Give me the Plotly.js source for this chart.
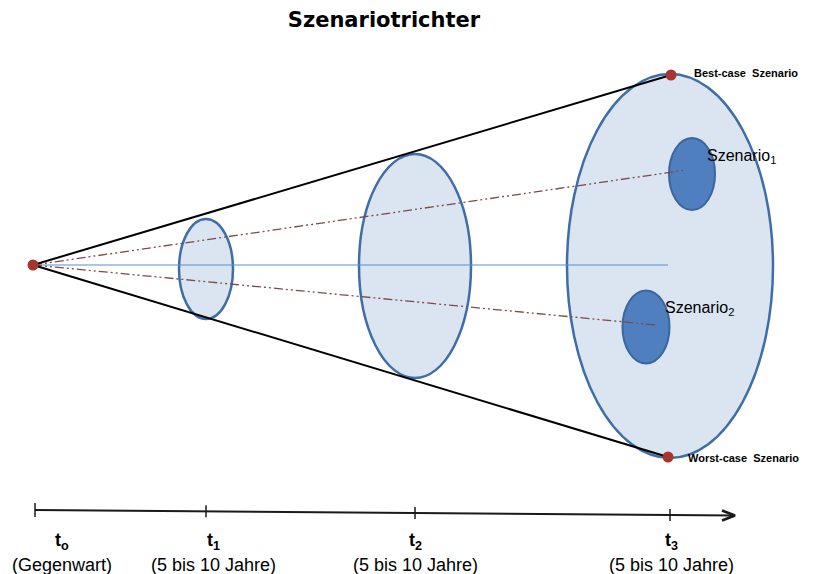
<!DOCTYPE html>
<html>
<head>
<meta charset="utf-8">
<script src="https://cdn.plot.ly/plotly-3.0.1.min.js"></script>
<style>html,body{margin:0;padding:0;background:#fff;}#chart{width:814px;height:574px;}</style>
</head>
<body>
<div id="chart"></div>
<script>
// ---- data (diagram coordinates) ----
const titleText = 'Szenariotrichter';
const stageLabels = ['t<sub>o</sub>', 't<sub>1</sub>', 't<sub>2</sub>', 't<sub>3</sub>'];
const stageSubLabels = ['(Gegenwart)', '(5 bis 10 Jahre)', '(5 bis 10 Jahre)', '(5 bis 10 Jahre)'];
const stageTickX = [35, 206, 415, 670];
const stageLabelX = [62, 213, 415, 671];

// funnel
const apex = [33, 265];
const bestCase = [671, 75];
const worstCase = [668, 457];
const centerEnd = [668, 265];
const caseLabels = ['Best-case\u00a0 Szenario', 'Worst-case\u00a0 Szenario'];

// cross-section ellipses at t1, t2, t3 : centre x, centre y, radius x, radius y
const sectionCx = [206, 415, 670];
const sectionCy = [269, 266, 266];
const sectionRx = [27, 56, 103];
const sectionRy = [50, 112, 192];

// scenarios
const scenarioNames = ['Szenario<sub>1</sub>', 'Szenario<sub>2</sub>'];
const scenarioCx = [692, 646];
const scenarioCy = [174, 327];
const scenarioRx = [23, 23.5];
const scenarioRy = [36, 36.5];
const scenarioPathEnd = [[686, 170], [656, 325]];
const scenarioLabelX = [705, 663];
const scenarioLabelY = [156, 308];

// timeline
const timeStart = [35, 510];
const timeEnd = [735, 515.5];

// ---- build ----
const tlY = x => timeStart[1] + (x - timeStart[0]) * (timeEnd[1] - timeStart[1]) / (timeEnd[0] - timeStart[0]);
const traces = [];
const shapes = [];
const annotations = [];

for (let i = 0; i < sectionCx.length; i++) {
  shapes.push({type: 'circle', xref: 'x', yref: 'y', layer: 'below',
    x0: sectionCx[i] - sectionRx[i], x1: sectionCx[i] + sectionRx[i],
    y0: sectionCy[i] - sectionRy[i], y1: sectionCy[i] + sectionRy[i],
    fillcolor: '#dbe4f1', line: {color: '#3e6ea5', width: 2.5}});
}
for (let i = 0; i < scenarioCx.length; i++) {
  shapes.push({type: 'circle', xref: 'x', yref: 'y', layer: 'below',
    x0: scenarioCx[i] - scenarioRx[i], x1: scenarioCx[i] + scenarioRx[i],
    y0: scenarioCy[i] - scenarioRy[i], y1: scenarioCy[i] + scenarioRy[i],
    fillcolor: '#4f7fbf', line: {color: '#3a669d', width: 2}});
}

const line = (xs, ys, color, width, dash) => ({type: 'scatter', mode: 'lines', x: xs, y: ys,
  line: {color: color, width: width, dash: dash || 'solid'}, hoverinfo: 'skip', showlegend: false});

// centre line
traces.push(line([apex[0], centerEnd[0]], [apex[1], centerEnd[1]], '#5b8ccb', 1));
// scenario paths
scenarioPathEnd.forEach(p => traces.push(line([apex[0], p[0]], [apex[1], p[1]], '#7a4b4b', 1.3, '9px,3px,2px,3px,2px,3px')));
// cone edges
traces.push(line([apex[0], bestCase[0]], [apex[1], bestCase[1]], '#000000', 2));
traces.push(line([apex[0], worstCase[0]], [apex[1], worstCase[1]], '#000000', 2));
// red points
traces.push({type: 'scatter', mode: 'markers', x: [apex[0], bestCase[0], worstCase[0]], y: [apex[1], bestCase[1], worstCase[1]],
  marker: {color: '#a7342f', size: 11}, hoverinfo: 'skip', showlegend: false});

// timeline
traces.push(line([timeStart[0], timeEnd[0]], [timeStart[1], timeEnd[1]], '#1a1a1a', 2));
traces.push(line([timeEnd[0] - 13, timeEnd[0], timeEnd[0] - 13], [timeEnd[1] - 5, timeEnd[1], timeEnd[1] + 5], '#1a1a1a', 2.5));
stageTickX.forEach((x, i) => {
  const h = i === 0 ? 7 : 6;
  traces.push(line([x, x], [tlY(x) - h, tlY(x) + h], '#1a1a1a', 1.5));
});

const FONT = 'Liberation Sans, Arial, sans-serif';
stageLabels.forEach((t, i) => {
  annotations.push({x: stageLabelX[i], y: 541, xref: 'x', yref: 'y', text: '<b>' + t + '</b>', showarrow: false,
    xanchor: 'center', yanchor: 'middle', font: {family: FONT, size: 18, color: '#000'}});
  annotations.push({x: stageLabelX[i], y: 565, xref: 'x', yref: 'y', text: stageSubLabels[i], showarrow: false,
    xanchor: 'center', yanchor: 'middle', font: {family: FONT, size: 18, color: '#000'}});
});
annotations.push({x: 692, y: 73, xref: 'x', yref: 'y', text: '<b>' + caseLabels[0] + '</b>', showarrow: false,
  xanchor: 'left', yanchor: 'middle', font: {family: FONT, size: 11, color: '#000'}});
annotations.push({x: 686, y: 458, xref: 'x', yref: 'y', text: '<b>' + caseLabels[1] + '</b>', showarrow: false,
  xanchor: 'left', yanchor: 'middle', font: {family: FONT, size: 11, color: '#000'}});
scenarioNames.forEach((n, i) => {
  annotations.push({x: scenarioLabelX[i], y: scenarioLabelY[i], xref: 'x', yref: 'y', text: n, showarrow: false,
    xanchor: 'left', yanchor: 'middle', font: {family: FONT, size: 16, color: '#000'}});
});

const layout = {
  width: 814, height: 574,
  margin: {l: 0, r: 0, t: 0, b: 0},
  paper_bgcolor: '#ffffff', plot_bgcolor: '#ffffff',
  title: {text: '<b>' + titleText + '</b>', x: 384 / 814, xanchor: 'center', xref: 'paper',
    y: 1 - 20 / 574, yanchor: 'middle', yref: 'container',
    font: {family: 'DejaVu Sans, Verdana, sans-serif', size: 21, color: '#000'}},
  xaxis: {range: [0, 814], visible: false, fixedrange: true},
  yaxis: {range: [574, 0], visible: false, fixedrange: true},
  shapes: shapes,
  annotations: annotations,
  showlegend: false
};
Plotly.newPlot('chart', traces, layout, {staticPlot: true, displayModeBar: false});
</script>
</body>
</html>
